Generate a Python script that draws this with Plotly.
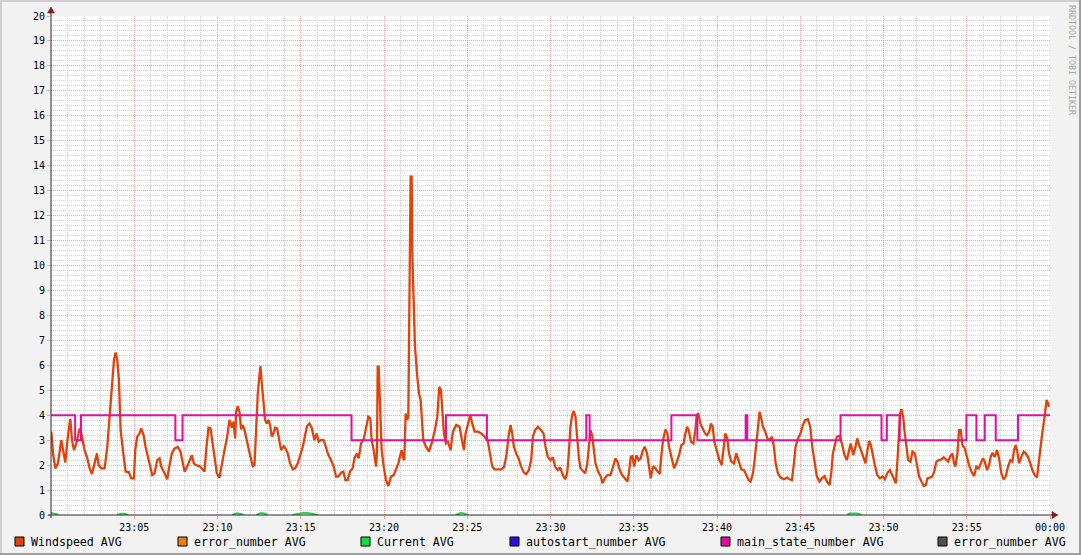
import plotly.graph_objects as go

# ---------------- data (minutes after 23:00) ----------------
wind_t = [0.02,0.12,0.26,0.42,0.62,0.72,0.86,1.02,1.16,1.26,1.38,1.52,1.72,1.82,2.02,2.18,2.32,2.46,2.62,2.76,2.86,3.02,3.22,3.38,3.52,3.66,3.78,3.88,3.98,4.08,4.18,4.32,4.48,4.68,4.82,4.98,5.06,5.18,5.32,5.42,5.56,5.68,5.82,5.96,6.08,6.22,6.38,6.52,6.62,6.82,6.98,7.12,7.26,7.42,7.62,7.78,7.92,8.02,8.18,8.32,8.46,8.58,8.72,8.92,9.12,9.22,9.32,9.46,9.58,9.72,9.82,9.96,10.12,10.26,10.42,10.58,10.72,10.86,10.96,11.06,11.12,11.22,11.32,11.42,11.52,11.62,11.72,11.82,
          11.98,12.12,12.22,12.32,12.42,12.52,12.58,12.66,12.76,12.86,12.96,13.06,13.16,13.26,13.36,13.46,13.58,13.68,13.82,13.98,14.08,14.22,14.36,14.52,14.66,14.82,14.98,15.12,15.26,15.38,15.52,15.66,15.82,15.96,16.08,16.22,16.38,16.52,16.66,16.82,16.98,17.12,17.26,17.42,17.56,17.68,17.82,17.96,18.12,18.22,18.36,18.48,18.62,18.78,18.92,19.06,19.18,19.26,19.38,19.52,19.58,19.62,19.68,19.76,19.86,19.98,20.12,20.26,20.42,20.58,20.72,20.86,20.98,21.06,21.16,
          21.22,21.3,21.4,21.46,21.5,21.56,21.6,21.66,21.7,21.76,21.86,22.0,22.1,22.2,22.26,22.36,22.52,22.7,22.86,23.06,23.2,23.32,23.42,23.52,23.6,23.72,
          23.84,24.0,24.14,24.34,24.54,24.68,24.8,24.9,25.04,25.18,25.3,25.44,25.64,25.84,26.04,26.24,26.38,26.5,26.64,26.84,27.04,27.2,27.34,27.48,27.6,27.7,27.8,27.94,28.08,28.24,28.4,28.54,28.7,28.84,28.94,29.08,29.24,29.44,29.58,29.7,29.84,30.0,30.14,30.28,30.44,30.58,30.74,30.88,31.0,31.1,31.2,31.3,31.4,31.5,31.6,31.7,31.8,31.94,32.08,32.2,32.3,32.4,32.5,32.6,32.7,32.86,33.02,33.12,33.26,33.42,33.6,33.76,33.9,34.02,34.16,34.3,34.46,34.62,34.72,34.82,34.92,35.02,35.16,35.3,35.42,35.52,35.66,35.8,
          36.02,36.16,36.3,36.42,36.56,36.66,36.76,36.9,37.02,37.12,37.26,37.42,37.56,37.72,37.86,38.0,38.1,38.2,38.3,38.44,38.58,38.7,38.78,38.88,39.0,39.14,39.28,39.4,39.54,39.64,39.74,39.84,39.98,40.14,40.28,40.4,40.5,40.62,40.72,40.86,41.02,41.16,41.3,41.46,41.62,41.76,41.9,42.02,42.16,42.26,42.36,42.46,42.56,42.66,42.76,42.9,43.02,43.16,43.3,43.42,43.52,43.66,43.82,44.02,44.22,44.36,44.5,44.62,44.72,44.86,45.02,45.16,45.3,45.46,45.6,45.72,45.86,46.0,46.16,46.3,46.46,46.6,46.76,46.86,46.96,47.06,47.2,47.36,47.5,47.66,47.8,
          48.03,48.18,48.32,48.42,48.54,48.68,48.82,48.92,49.02,49.14,49.24,49.34,49.48,49.62,49.78,49.94,50.08,50.22,50.38,50.52,50.64,50.74,50.84,50.92,51.0,51.08,51.18,51.28,51.38,51.48,51.62,51.74,51.88,52.02,52.14,52.28,52.42,52.54,52.64,52.78,52.92,53.04,53.18,53.32,53.48,53.62,53.74,53.88,54.02,54.14,54.24,54.32,54.44,54.54,54.64,54.74,54.88,55.02,55.14,55.28,55.44,55.58,55.72,55.84,55.98,56.08,56.22,56.34,56.44,56.54,56.68,56.82,56.94,57.08,57.22,57.34,57.48,57.62,57.74,57.84,57.94,58.04,58.14,58.28,58.42,58.54,58.68,58.82,58.94,59.08,59.22,59.32,59.42,59.52,59.62,59.72,59.8,59.88,59.94]
wind_v = [3.34,2.47,1.87,2.07,3.0,2.6,2.1,3.19,3.85,3.0,2.6,2.87,3.47,3.27,2.6,2.27,1.87,1.64,2.07,2.47,2.0,1.87,1.87,2.73,3.94,5.28,6.21,6.51,6.21,5.41,3.41,2.6,1.74,1.71,1.47,1.47,2.6,3.14,3.27,3.47,3.2,2.73,2.33,1.94,1.6,1.67,2.2,2.27,1.94,1.67,1.43,2.0,2.47,2.67,2.73,2.54,2.0,1.74,1.94,2.2,2.4,2.07,2.0,1.96,1.8,1.74,2.6,3.5,3.47,2.87,2.27,1.67,1.5,2.07,2.6,3.14,3.81,3.5,3.74,3.07,4.14,4.37,4.14,3.43,3.6,3.41,3.07,2.73,
          2.33,1.96,2.0,3.41,4.88,5.61,5.97,5.28,4.48,3.81,3.67,3.81,3.6,3.14,3.27,3.5,3.47,3.14,2.6,2.76,2.67,2.47,2.07,1.83,1.87,2.07,2.47,2.73,3.2,3.57,3.67,3.5,3.0,3.27,2.94,3.0,3.0,2.67,2.4,2.2,1.94,1.54,1.54,1.7,1.74,1.4,1.4,1.74,1.87,2.27,2.47,2.27,2.87,3.03,3.54,3.94,3.87,3.0,2.6,1.94,2.6,5.95,5.95,4.34,2.6,1.94,1.4,1.16,1.54,1.6,1.87,2.07,2.4,2.6,2.27,
          2.2,4.07,3.81,3.94,5.94,10.89,13.56,13.56,10.49,8.62,6.75,5.54,4.88,4.61,3.94,3.0,2.74,2.54,2.87,3.41,3.94,5.14,5.01,4.07,3.27,2.87,
          2.94,2.6,3.34,3.61,3.54,3.0,2.6,3.27,3.67,4.01,3.67,3.34,3.34,3.27,3.14,2.94,2.4,1.94,1.83,1.83,1.83,1.91,2.33,3.14,3.61,3.27,2.74,2.47,2.27,1.94,1.7,1.64,1.8,2.2,3.14,3.4,3.54,3.4,3.27,2.74,2.33,2.2,2.31,1.94,1.8,1.91,1.6,1.43,1.67,2.47,3.54,4.01,4.17,3.94,3.07,2.33,1.87,1.78,1.67,2.0,2.74,3.4,3.2,2.74,2.07,1.74,1.54,1.27,1.47,1.6,1.6,1.94,2.27,2.14,1.8,1.6,1.47,1.34,1.74,2.33,2.36,1.94,2.4,2.2,2.27,2.54,2.74,2.47,
          1.47,1.96,1.87,1.74,1.64,2.4,3.0,3.43,3.27,2.74,2.27,1.87,2.07,2.4,2.8,2.87,3.27,3.54,3.4,2.94,2.87,3.4,4.01,4.07,3.67,3.47,3.27,3.2,3.34,3.67,3.54,2.94,2.6,2.2,2.0,2.74,3.27,3.07,2.47,2.14,2.07,2.47,2.2,1.83,1.8,1.6,1.4,1.34,1.67,2.2,2.87,3.67,4.14,3.87,3.54,3.34,3.07,3.0,3.14,2.74,2.07,1.67,1.5,1.43,1.5,1.43,1.4,2.07,2.74,3.07,3.27,3.61,3.81,3.84,3.54,2.74,2.07,1.54,1.34,1.47,1.56,1.34,1.2,1.67,2.47,2.8,3.14,3.17,2.87,2.4,2.2,
          2.87,2.4,2.74,3.07,2.8,2.54,2.2,2.07,2.54,2.97,2.8,2.4,2.0,1.6,1.47,1.54,1.43,1.67,1.8,1.6,1.4,1.27,2.2,3.27,4.07,4.24,3.94,3.27,2.74,2.2,2.14,2.54,2.47,1.94,1.54,1.34,1.16,1.2,1.47,1.5,1.54,1.74,2.14,2.2,2.23,2.31,2.24,2.14,2.36,2.47,2.07,1.94,2.47,3.4,3.4,2.8,2.67,2.27,2.0,1.74,1.56,1.94,1.87,2.07,2.27,2.14,1.8,2.0,2.33,2.49,2.33,2.6,2.27,1.67,1.43,1.54,1.94,2.2,2.14,2.6,2.8,2.54,2.07,2.33,2.54,2.47,2.33,2.07,1.8,1.6,1.5,2.07,2.74,3.2,3.67,4.21,4.61,4.47,4.34]

state_t = [0, 1.45, 1.8, 7.47, 7.9, 18.05, 23.72, 26.18, 32.15, 32.35, 37.26, 38.82, 41.72, 41.82, 47.42, 49.88, 50.2, 50.97, 54.98, 55.58, 56.08, 56.74, 58.08, 60]
state_v = [4, 3, 4, 3, 4, 3, 4, 3, 4, 3, 4, 3, 4, 3, 4, 3, 4, 3, 4, 3, 4, 3, 4, 4]

current_t = [0.0, 0.2, 0.45, None, 3.95, 4.2, 4.4, 4.65, None, 10.9, 11.15, 11.4, 11.6, None,
             12.35, 12.6, 12.8, 13.0, None, 14.5, 14.9, 15.2, 15.6, 16.0, None,
             24.3, 24.6, 24.8, 25.05, None, 47.8, 48.0, 48.4, 48.7]
current_v = [0.08, 0.06, 0.01, None, 0.0, 0.05, 0.05, 0.0, None, 0.0, 0.07, 0.04, 0.0, None,
             0.0, 0.08, 0.06, 0.0, None, 0.0, 0.05, 0.09, 0.06, 0.0, None,
             0.0, 0.08, 0.06, 0.0, None, 0.0, 0.06, 0.06, 0.0]

x_tickvals = [5, 10, 15, 20, 25, 30, 35, 40, 45, 50, 55, 60]
x_ticktext = ["23:05", "23:10", "23:15", "23:20", "23:25", "23:30",
              "23:35", "23:40", "23:45", "23:50", "23:55", "00:00"]

legend_names = ["Windspeed AVG", "error_number AVG", "Current AVG",
                "autostart_number AVG", "main_state_number AVG", "error_number AVG"]
legend_colors = ["#E2410B", "#EA7F0C", "#14DE44", "#2A10E2", "#E00FA0", "#505050"]

# ---------------- figure ----------------
W, H = 1081, 555
L, R, T, B = 51, 31, 16, 40
PW, PH = W - L - R, H - T - B

def X(px):
    return (px - L) / PW

def Y(py):
    return (H - B - py) / PH

MONO = "DejaVu Sans Mono"
MINOR = "#D4D4D4"
MAJOR = "#EBA5A5"

fig = go.Figure()
fig.add_trace(go.Scatter(x=wind_t, y=wind_v, mode="lines",
                         line=dict(color=legend_colors[0], width=2.3), hoverinfo="skip"))
fig.add_trace(go.Scatter(x=current_t, y=current_v, mode="lines", connectgaps=False,
                         line=dict(color=legend_colors[2], width=2), hoverinfo="skip"))
fig.add_trace(go.Scatter(x=state_t, y=state_v, mode="lines", line_shape="hv",
                         line=dict(color=legend_colors[4], width=2), hoverinfo="skip"))

shapes = []
# 3D border
shapes.append(dict(type="rect", xref="paper", yref="paper", x0=X(0), x1=X(W), y0=Y(0), y1=Y(2),
                   fillcolor="#CFCFCF", line_width=0, layer="below"))
shapes.append(dict(type="rect", xref="paper", yref="paper", x0=X(0), x1=X(2), y0=Y(0), y1=Y(H),
                   fillcolor="#CFCFCF", line_width=0, layer="below"))
shapes.append(dict(type="rect", xref="paper", yref="paper", x0=X(0), x1=X(W), y0=Y(H - 2), y1=Y(H),
                   fillcolor="#9E9E9E", line_width=0, layer="below"))
shapes.append(dict(type="rect", xref="paper", yref="paper", x0=X(W - 2), x1=X(W), y0=Y(0), y1=Y(H),
                   fillcolor="#9E9E9E", line_width=0, layer="below"))
# axes
shapes.append(dict(type="line", xref="paper", yref="paper", x0=X(51), x1=X(51), y0=Y(518), y1=Y(12),
                   line=dict(color="#2A2A2A", width=1), layer="above"))
shapes.append(dict(type="line", xref="paper", yref="paper", x0=X(48), x1=X(1053), y0=Y(515), y1=Y(515),
                   line=dict(color="#2A2A2A", width=1), layer="above"))
# arrows
shapes.append(dict(type="path", xref="paper", yref="paper",
                   path=f"M {X(51)} {Y(7)} L {X(47.5)} {Y(13)} L {X(54.5)} {Y(13)} Z",
                   fillcolor="#801F1F", line=dict(color="#801F1F", width=0.5), layer="above"))
shapes.append(dict(type="path", xref="paper", yref="paper",
                   path=f"M {X(1058)} {Y(515)} L {X(1052)} {Y(511.5)} L {X(1052)} {Y(518.5)} Z",
                   fillcolor="#801F1F", line=dict(color="#801F1F", width=0.5), layer="above"))

annotations = []
legend_box_x = [15, 178, 361, 510, 721, 938]
for name, col, bx in zip(legend_names, legend_colors, legend_box_x):
    shapes.append(dict(type="rect", xref="paper", yref="paper",
                       x0=X(bx), x1=X(bx + 9), y0=Y(537), y1=Y(546),
                       fillcolor=col, line=dict(color="#000000", width=1)))
    annotations.append(dict(xref="paper", yref="paper", x=X(bx + 14), y=Y(541.5),
                            xanchor="left", yanchor="middle", showarrow=False, text=name,
                            font=dict(family=MONO, size=11.6, color="#000000")))

annotations.append(dict(xref="paper", yref="paper", x=X(1072), y=Y(60), textangle=90,
                        xanchor="center", yanchor="middle", showarrow=False,
                        text="RRDTOOL / TOBI OETIKER",
                        font=dict(family=MONO, size=8.3, color="#A8A8A8")))

fig.update_layout(
    width=W, height=H,
    margin=dict(l=L, r=R, t=T, b=B, pad=0, autoexpand=False),
    paper_bgcolor="#F2F2F2", plot_bgcolor="#FFFFFF",
    showlegend=False, hovermode=False,
    shapes=shapes, annotations=annotations,
    xaxis=dict(range=[0, 60], tickmode="array", tickvals=x_tickvals, ticktext=x_ticktext,
               showgrid=True, gridcolor=MAJOR, griddash="1px,1px", gridwidth=1,
               minor=dict(tickmode="linear", tick0=0, dtick=1, showgrid=True,
                          gridcolor=MINOR, griddash="1px,1px", gridwidth=1),
               zeroline=False, showline=False, ticks="outside", ticklen=3, tickcolor=MAJOR,
               tickfont=dict(family=MONO, size=10, color="#000000"), automargin=False, fixedrange=True),
    yaxis=dict(range=[0, 20], tickmode="linear", tick0=0, dtick=1,
               showgrid=True, gridcolor=MAJOR, griddash="1px,1px", gridwidth=1,
               minor=dict(tickmode="linear", tick0=0, dtick=0.2, showgrid=True,
                          gridcolor=MINOR, griddash="1px,1px", gridwidth=1),
               zeroline=False, showline=False, ticks="outside", ticklen=3, tickcolor=MAJOR,
               tickfont=dict(family=MONO, size=10, color="#000000"), automargin=False, fixedrange=True),
)

fig.write_html("out.html", config={"displayModeBar": False},
               post_script="document.body.style.margin='0';document.body.style.overflow='hidden';")
